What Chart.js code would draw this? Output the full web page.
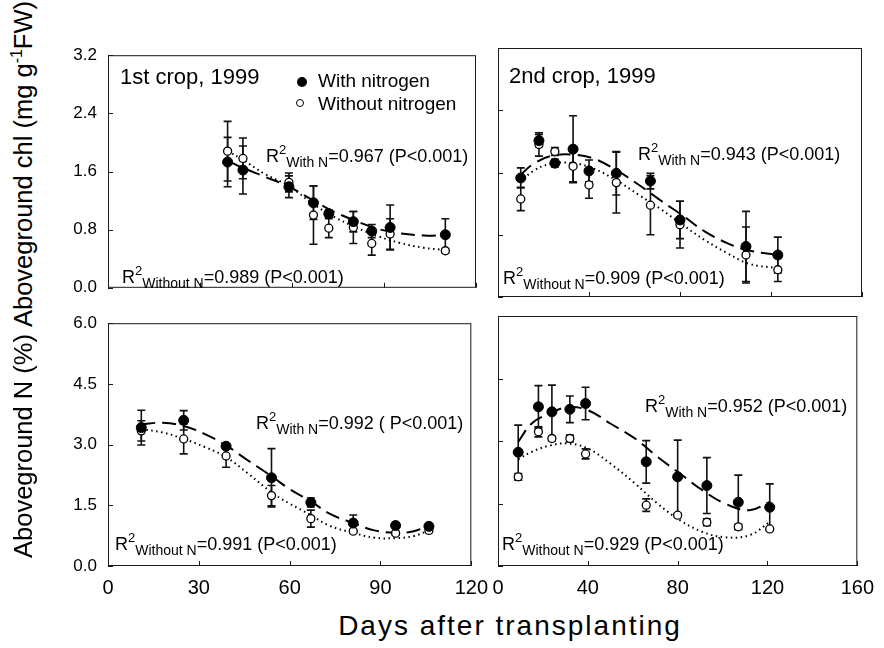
<!DOCTYPE html>
<html>
<head>
<meta charset="utf-8">
<script src="https://cdn.jsdelivr.net/npm/chart.js@4.4.1/dist/chart.umd.min.js"></script>
<style>
  body { margin: 0; width: 884px; height: 648px; position: relative; overflow: hidden; background: #fff;
         font-family: "Liberation Sans", Arial, Helvetica, sans-serif; color: #000; }
  canvas { position: absolute; }
  .txt { position: absolute; white-space: nowrap; line-height: 1; }
  .r2 { font-size: 18px; }
  .r2 .sp { font-size: 13px; position: relative; top: -8px; }
  .r2 .sb { font-size: 14px; position: relative; top: 5px; }
  .title { font-size: 22px; }
  .leg { font-size: 19px; }
  .dot { position: absolute; border-radius: 50%; box-sizing: border-box; }
  .ytitle { position: absolute; white-space: nowrap; line-height: 1; font-size: 25.5px;
            transform: translate(-50%, -50%) rotate(-90deg); }
  .ytitle .sp { font-size: 16px; position: relative; top: -10px; }
  .xtitle { position: absolute; white-space: nowrap; line-height: 1; font-size: 28px; letter-spacing: 2px;
            transform: translateX(-50%); }
</style>
</head>
<body>

<canvas id="c1" width="450" height="275"></canvas>
<canvas id="c2" width="446" height="275"></canvas>
<canvas id="c3" width="450" height="308"></canvas>
<canvas id="c4" width="446" height="308"></canvas>

<div class="ytitle" style="left:24px; top:164px;">Aboveground chl (mg g<span class="sp">-1</span>FW)</div>
<div class="ytitle" style="left:24px; top:446px;">Aboveground N (%)</div>
<div class="xtitle" style="left:510px; top:612px;">Days after transplanting</div>

<div class="txt title" style="left:120px; top:66px;">1st crop, 1999</div>
<div class="txt title" style="left:509px; top:65px;">2nd crop, 1999</div>
<div class="dot" style="left:297px; top:77px; width:10px; height:10px; background:#000;"></div>
<div class="dot" style="left:296px; top:99px; width:8px; height:8px; border:1.3px solid #000; background:#fff;"></div>
<div class="txt leg" style="left:318px; top:70.5px;">With nitrogen</div>
<div class="txt leg" style="left:318px; top:93.5px;">Without nitrogen</div>

<div class="txt r2" style="left:266px; top:146.5px;">R<span class="sp">2</span><span class="sb">With N</span>=0.967 (P&lt;0.001)</div>
<div class="txt r2" style="left:122px; top:268px;">R<span class="sp">2</span><span class="sb">Without N</span>=0.989 (P&lt;0.001)</div>
<div class="txt r2" style="left:638px; top:145px;">R<span class="sp">2</span><span class="sb">With N</span>=0.943 (P&lt;0.001)</div>
<div class="txt r2" style="left:503px; top:268.5px;">R<span class="sp">2</span><span class="sb">Without N</span>=0.909 (P&lt;0.001)</div>
<div class="txt r2" style="left:256px; top:413.5px;">R<span class="sp">2</span><span class="sb">With N</span>=0.992 ( P&lt;0.001)</div>
<div class="txt r2" style="left:115px; top:535px;">R<span class="sp">2</span><span class="sb">Without N</span>=0.991 (P&lt;0.001)</div>
<div class="txt r2" style="left:645px; top:397px;">R<span class="sp">2</span><span class="sb">With N</span>=0.952 (P&lt;0.001)</div>
<div class="txt r2" style="left:502px; top:535px;">R<span class="sp">2</span><span class="sb">Without N</span>=0.929 (P&lt;0.001)</div>

<script>
// ---- 1st crop, chlorophyll (mg g-1 FW) ----
const chlDays1 = [39, 44, 59, 67, 72, 80, 86, 92, 110];
const chlWithN1 = [1.73, 1.62, 1.39, 1.17, 1.02, 0.91, 0.78, 0.83, 0.73];
const chlWithNErr1 = [0.34, 0.33, 0.15, 0.23, 0.05, 0.14, 0.09, 0.31, 0.22];
const chlNoN1 = [1.88, 1.78, 1.45, 1.00, 0.82, 0.83, 0.61, 0.74, 0.51];
const chlNoNErr1 = [0.41, 0.28, 0.13, 0.40, 0.13, 0.22, 0.16, 0.21, 0.03];
const chlFitDays1 = [39, 44, 51, 59, 67, 74, 82, 88, 95, 103, 110];
const chlFitWithN1 = [1.75, 1.65, 1.53, 1.39, 1.20, 1.04, 0.90, 0.81, 0.75, 0.72, 0.72];
const chlFitNoN1 = [1.88, 1.76, 1.57, 1.40, 1.15, 0.97, 0.81, 0.71, 0.62, 0.55, 0.52];

// ---- 2nd crop, chlorophyll ----
const chlDays2 = [10, 18, 25, 33, 40, 52, 67, 80, 109, 123];
const chlWithN2 = [1.53, 2.01, 1.72, 1.90, 1.62, 1.59, 1.49, 0.99, 0.65, 0.54];
const chlWithNErr2 = [0.13, 0.08, 0.05, 0.43, 0.14, 0.28, 0.10, 0.24, 0.45, 0.23];
const chlNoN2 = [1.26, 1.96, 1.87, 1.68, 1.44, 1.47, 1.18, 0.93, 0.54, 0.35];
const chlNoNErr2 = [0.15, 0.15, 0.05, 0.20, 0.17, 0.39, 0.38, 0.30, 0.36, 0.15];
const chlFitDays2 = [10, 15, 23, 33, 42, 52, 62, 72, 81, 91, 101, 110, 123];
const chlFitWithN2 = [1.57, 1.70, 1.81, 1.83, 1.78, 1.63, 1.44, 1.23, 1.05, 0.84, 0.69, 0.60, 0.54];
const chlFitNoN2 = [1.47, 1.61, 1.71, 1.72, 1.65, 1.50, 1.31, 1.12, 0.93, 0.73, 0.56, 0.43, 0.37];

// ---- 1st crop, N (%) ----
const nDays1 = [11, 25, 39, 54, 67, 81, 95, 106];
const nWithN1 = [3.42, 3.60, 2.96, 2.18, 1.57, 1.06, 1.00, 0.98];
const nWithNErr1 = [0.43, 0.24, 0.06, 0.72, 0.11, 0.20, 0.05, 0.05];
const nNoN1 = [3.34, 3.14, 2.72, 1.74, 1.17, 0.86, 0.81, 0.88];
const nNoNErr1 = [0.25, 0.37, 0.28, 0.25, 0.21, 0.05, 0.05, 0.05];
const nFitDays1 = [11, 18, 25, 32, 39, 46, 54, 60, 67, 73, 81, 88, 95, 101, 106];
const nFitWithN1 = [3.50, 3.54, 3.46, 3.26, 2.98, 2.62, 2.22, 1.90, 1.60, 1.30, 1.06, 0.88, 0.82, 0.86, 1.00];
const nFitNoN1 = [3.38, 3.30, 3.14, 2.94, 2.69, 2.30, 1.82, 1.54, 1.26, 1.00, 0.82, 0.70, 0.69, 0.74, 0.88];

// ---- 2nd crop, N (%) ----
const nDays2 = [9, 18, 24, 32, 39, 66, 80, 93, 107, 121];
const nWithN2 = [2.73, 3.82, 3.70, 3.76, 3.90, 2.50, 2.14, 1.93, 1.53, 1.41];
const nWithNErr2 = [0.65, 0.51, 0.64, 0.32, 0.39, 0.51, 0.88, 0.67, 0.65, 0.56];
const nNoN2 = [2.14, 3.22, 3.06, 3.06, 2.69, 1.46, 1.22, 1.05, 0.94, 0.89];
const nNoNErr2 = [0.08, 0.12, 0.05, 0.08, 0.12, 0.15, 0.04, 0.08, 0.06, 0.03];
const nFitDays2 = [9, 15, 23, 31, 40, 50, 61, 71, 81, 91, 101, 112, 121];
const nFitWithN2 = [2.98, 3.42, 3.66, 3.81, 3.74, 3.42, 3.06, 2.62, 2.22, 1.82, 1.50, 1.34, 1.54];
const nFitNoN2 = [2.56, 2.74, 2.89, 2.94, 2.82, 2.46, 1.98, 1.50, 1.10, 0.82, 0.69, 0.74, 1.06];

const FONT = '"Liberation Sans", Arial, Helvetica, sans-serif';

function pts(xs, ys) {
    return xs.map((x, i) => ({ x: x, y: ys[i] }));
}

// box frame, inward ticks and error bars
const frame = {
    id: 'frame',
    beforeDatasetsDraw(chart) {
        const { ctx, chartArea: a } = chart;
        const x = chart.scales.x, y = chart.scales.y;
        ctx.save();
        ctx.strokeStyle = '#1a1a1a';
        ctx.lineWidth = 1;
        ctx.strokeRect(a.left + 0.5, a.top + 0.5, a.right - a.left - 1, a.bottom - a.top - 1);
        ctx.beginPath();
        y.ticks.forEach(t => {
            const py = Math.round(y.getPixelForValue(t.value)) + 0.5;
            ctx.moveTo(a.left, py); ctx.lineTo(a.left + 5, py);
        });
        x.ticks.forEach(t => {
            const px = Math.round(x.getPixelForValue(t.value)) + 0.5;
            ctx.moveTo(px, a.bottom); ctx.lineTo(px, a.bottom - 5);
        });
        ctx.stroke();

        ctx.lineWidth = 1.6;
        ctx.strokeStyle = '#111';
        chart.data.datasets.forEach(ds => {
            if (!ds.errors) return;
            ctx.beginPath();
            ds.data.forEach((p, j) => {
                const e = ds.errors[j];
                const px = x.getPixelForValue(p.x);
                const pt = y.getPixelForValue(p.y + e);
                const pb = y.getPixelForValue(p.y - e);
                ctx.moveTo(px, pt); ctx.lineTo(px, pb);
                ctx.moveTo(px - 4, pt); ctx.lineTo(px + 4, pt);
                ctx.moveTo(px - 4, pb); ctx.lineTo(px + 4, pb);
            });
            ctx.stroke();
        });
        ctx.restore();
    }
};

function makePanel(id, box, xMax, xStep, yMax, yStep, showX, showY, d) {
    const yW = 60, padTop = 14, padRight = 22;
    const xH = showX ? 44 : 12;
    const cv = document.getElementById(id);
    cv.width = yW + (box.R - box.L) + padRight;
    cv.height = padTop + (box.B - box.T) + xH;
    cv.style.left = (box.L - yW) + 'px';
    cv.style.top = (box.T - padTop) + 'px';

    new Chart(cv.getContext('2d'), {
        type: 'scatter',
        data: {
            datasets: [
                {
                    label: 'With nitrogen', data: pts(d.days, d.withN), errors: d.withNErr, order: 0,
                    pointRadius: 5, pointBackgroundColor: '#000', pointBorderColor: '#000', pointBorderWidth: 1,
                    showLine: false
                },
                {
                    label: 'Without nitrogen', data: pts(d.days, d.noN), errors: d.noNErr, order: 1,
                    pointRadius: 4, pointBackgroundColor: '#fff', pointBorderColor: '#000', pointBorderWidth: 1.3,
                    showLine: false
                },
                {
                    label: 'fit with N', data: pts(d.fitDays, d.fitWithN), order: 2,
                    showLine: true, pointRadius: 0, borderColor: '#000', borderWidth: 2,
                    borderDash: [14, 7], tension: 0.4, fill: false
                },
                {
                    label: 'fit without N', data: pts(d.fitDays, d.fitNoN), order: 3,
                    showLine: true, pointRadius: 0, borderColor: '#000', borderWidth: 2,
                    borderDash: [1.5, 3.5], tension: 0.4, fill: false
                }
            ]
        },
        options: {
            responsive: false,
            animation: false,
            layout: { padding: { top: padTop, right: padRight, left: 0, bottom: 0 }, autoPadding: false },
            plugins: { legend: { display: false }, tooltip: { enabled: false } },
            scales: {
                x: {
                    type: 'linear', min: 0, max: xMax,
                    grid: { display: false, drawTicks: false },
                    border: { display: false },
                    ticks: {
                        display: showX, stepSize: xStep, autoSkip: false, maxRotation: 0, padding: 10,
                        color: '#000', font: { family: FONT, size: 20 },
                        callback: v => String(v)
                    },
                    afterFit: s => { s.height = xH; }
                },
                y: {
                    type: 'linear', min: 0, max: yMax,
                    grid: { display: false, drawTicks: false },
                    border: { display: false },
                    ticks: {
                        display: showY, stepSize: yStep, autoSkip: false, padding: 11,
                        color: '#000', font: { family: FONT, size: 17 },
                        callback: v => v.toFixed(1)
                    },
                    afterFit: s => { s.width = yW; }
                }
            }
        },
        plugins: [frame]
    });
}

makePanel('c1', { L: 108, R: 476, T: 48, B: 297 }, 120, 30, 3.2, 0.8, false, true, {
    days: chlDays1, withN: chlWithN1, withNErr: chlWithNErr1, noN: chlNoN1, noNErr: chlNoNErr1,
    fitDays: chlFitDays1, fitWithN: chlFitWithN1, fitNoN: chlFitNoN1
});
makePanel('c2', { L: 498, R: 862, T: 48, B: 297 }, 160, 40, 3.2, 0.8, false, false, {
    days: chlDays2, withN: chlWithN2, withNErr: chlWithNErr2, noN: chlNoN2, noNErr: chlNoNErr2,
    fitDays: chlFitDays2, fitWithN: chlFitWithN2, fitNoN: chlFitNoN2
});
makePanel('c3', { L: 108, R: 476, T: 316, B: 566 }, 120, 30, 6, 1.5, true, true, {
    days: nDays1, withN: nWithN1, withNErr: nWithNErr1, noN: nNoN1, noNErr: nNoNErr1,
    fitDays: nFitDays1, fitWithN: nFitWithN1, fitNoN: nFitNoN1
});
makePanel('c4', { L: 498, R: 862, T: 316, B: 566 }, 160, 40, 6, 1.5, true, false, {
    days: nDays2, withN: nWithN2, withNErr: nWithNErr2, noN: nNoN2, noNErr: nNoNErr2,
    fitDays: nFitDays2, fitWithN: nFitWithN2, fitNoN: nFitNoN2
});
</script>
</body>
</html>
